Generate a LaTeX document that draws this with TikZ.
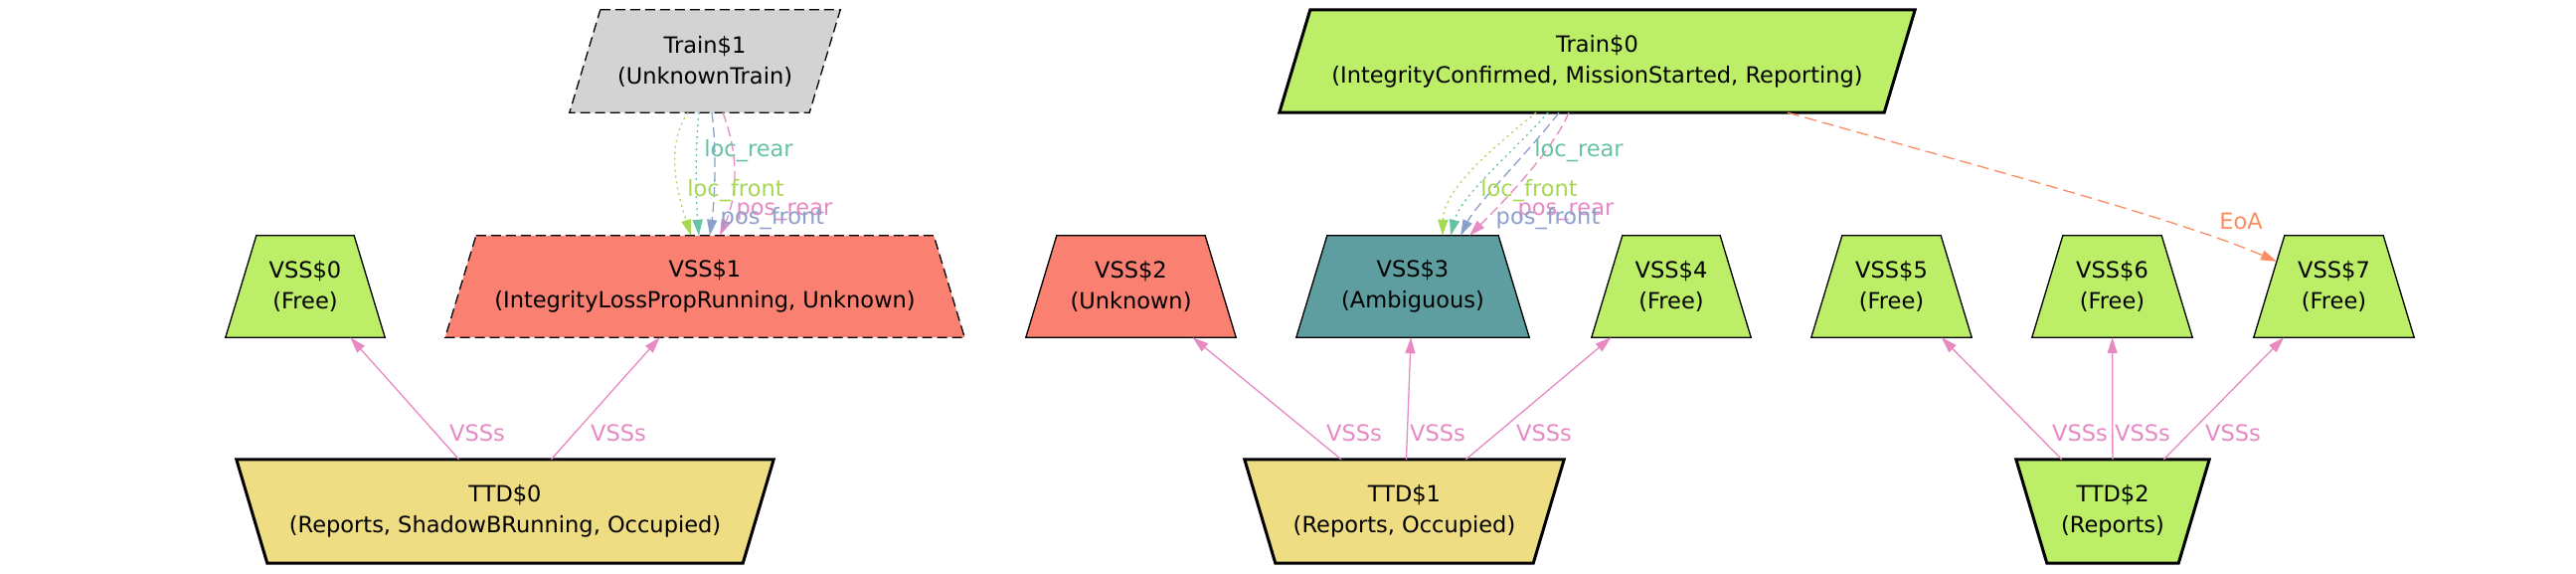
\documentclass[tikz,border=0pt]{standalone}
\usepackage{fontspec}
\setmainfont{DejaVu Sans}
\usetikzlibrary{arrows.meta,calc}
\definecolor{nodegreen}{HTML}{BCEE68}
\definecolor{nodesalmon}{HTML}{FA8072}
\definecolor{nodeteal}{HTML}{5F9EA0}
\definecolor{nodegold}{HTML}{EEDD82}
\definecolor{nodegray}{HTML}{D3D3D3}
\definecolor{cteal}{HTML}{66C2A5}
\definecolor{corange}{HTML}{FC8D62}
\definecolor{cblue}{HTML}{8DA0CB}
\definecolor{cpink}{HTML}{E78AC3}
\definecolor{cgreen}{HTML}{A6D854}
\pgfdeclarelayer{bg}
\pgfsetlayers{bg,main}
% trapezium with narrow top (VSS)
\newcommand\vssshape[2]{\begin{pgfonlayer}{bg}\path[#2] ([xshift=31pt]#1.north west) -- ([xshift=-31pt]#1.north east) -- (#1.south east) -- (#1.south west) -- cycle;\end{pgfonlayer}}
% inverted trapezium (TTD)
\newcommand\ttdshape[2]{\begin{pgfonlayer}{bg}\path[#2] (#1.north west) -- (#1.north east) -- ([xshift=-31pt]#1.south east) -- ([xshift=31pt]#1.south west) -- cycle;\end{pgfonlayer}}
% parallelogram (Train)
\newcommand\trainshape[2]{\begin{pgfonlayer}{bg}\path[#2] ([xshift=31pt]#1.north west) -- (#1.north east) -- ([xshift=-31pt]#1.south east) -- (#1.south west) -- cycle;\end{pgfonlayer}}
\begin{document}
\begin{tikzpicture}[x=1pt,y=-1pt,
  box/.style={inner sep=0pt, align=center, font=\fontsize{22.5}{31}\selectfont},
  lbl/.style={inner sep=0pt, font=\fontsize{22.5}{27}\selectfont},
  thinb/.style={draw=black, line width=1.3pt, line join=miter},
  boldb/.style={draw=black, line width=3pt, line join=miter},
  dashb/.style={draw=black, line width=1.3pt, dash pattern=on 10pt off 5pt},
  tip/.style={-{Triangle[length=16pt,width=10pt]}},
  vssedge/.style={draw=cpink, line width=1.3pt, tip},
  locfront/.style={draw=cgreen, line width=1.3pt, dash pattern=on 2pt off 4pt, tip},
  locrear/.style={draw=cteal, line width=1.3pt, dash pattern=on 2pt off 4pt, tip},
  posfront/.style={draw=cblue, line width=1.3pt, dash pattern=on 10pt off 5pt, tip},
  posrear/.style={draw=cpink, line width=1.3pt, dash pattern=on 10pt off 5pt, tip},
  eoa/.style={draw=corange, line width=1.3pt, dash pattern=on 12pt off 6pt, tip}
]
\begin{pgfonlayer}{bg}
\fill[white] (0,0) rectangle (2591,576);
\end{pgfonlayer}
\useasboundingbox (0,0) rectangle (2591,576);

% Trains
\node[box, minimum width=272pt, minimum height=103pt] (tr1) at (709,61.5) {Train\$1\\(UnknownTrain)};
\trainshape{tr1}{fill=nodegray, dashb}
\node[box, minimum width=639pt, minimum height=103pt] (tr0) at (1606.5,61.5) {Train\$0\\(IntegrityConfirmed, MissionStarted, Reporting)};
\trainshape{tr0}{fill=nodegreen, boldb}

% VSS row
\node[box, minimum width=160pt, minimum height=102pt] (v0) at (307,288) {VSS\$0\\(Free)};
\vssshape{v0}{fill=nodegreen, thinb}
\node[box, minimum width=522pt, minimum height=102pt] (v1) at (709,288) {VSS\$1\\(IntegrityLossPropRunning, Unknown)};
\vssshape{v1}{fill=nodesalmon, dashb}
\node[box, minimum width=211pt, minimum height=102pt] (v2) at (1137.5,288) {VSS\$2\\(Unknown)};
\vssshape{v2}{fill=nodesalmon, thinb}
\node[box, minimum width=234pt, minimum height=102pt] (v3) at (1421,288) {VSS\$3\\(Ambiguous)};
\vssshape{v3}{fill=nodeteal, thinb}
\node[box, minimum width=160pt, minimum height=102pt] (v4) at (1681,288) {VSS\$4\\(Free)};
\vssshape{v4}{fill=nodegreen, thinb}
\node[box, minimum width=161pt, minimum height=102pt] (v5) at (1902.5,288) {VSS\$5\\(Free)};
\vssshape{v5}{fill=nodegreen, thinb}
\node[box, minimum width=161pt, minimum height=102pt] (v6) at (2124.5,288) {VSS\$6\\(Free)};
\vssshape{v6}{fill=nodegreen, thinb}
\node[box, minimum width=161pt, minimum height=102pt] (v7) at (2347.5,288) {VSS\$7\\(Free)};
\vssshape{v7}{fill=nodegreen, thinb}

% TTD row
\node[box, minimum width=540pt, minimum height=104pt] (t0) at (508,514) {TTD\$0\\(Reports, ShadowBRunning, Occupied)};
\ttdshape{t0}{fill=nodegold, boldb}
\node[box, minimum width=321pt, minimum height=104pt] (t1) at (1412.5,514) {TTD\$1\\(Reports, Occupied)};
\ttdshape{t1}{fill=nodegold, boldb}
\node[box, minimum width=194pt, minimum height=104pt] (t2) at (2125,514) {TTD\$2\\(Reports)};
\ttdshape{t2}{fill=nodegreen, boldb}

% VSSs edges
\draw[vssedge] (t0) -- (v0);
\draw[vssedge] (t0) -- (v1);
\draw[vssedge] (t1) -- (v2);
\draw[vssedge] (t1) -- (v3);
\draw[vssedge] (t1) -- (v4);
\draw[vssedge] (t2) -- (v5);
\draw[vssedge] (t2) -- (v6);
\draw[vssedge] (t2) -- (v7);
\node[lbl, text=cpink] (l00) at (480,435) {VSSs};
\node[lbl, text=cpink] (l01) at (622,435) {VSSs};
\node[lbl, text=cpink] (l12) at (1362,435) {VSSs};
\node[lbl, text=cpink] (l13) at (1446,435) {VSSs};
\node[lbl, text=cpink] (l14) at (1553,435) {VSSs};
\node[lbl, text=cpink] (l25) at (2092,435) {VSSs};
\node[lbl, text=cpink] (l26) at (2155,435) {VSSs};
\node[lbl, text=cpink] (l27) at (2246,435) {VSSs};

% Train$1 -> VSS$1
\draw[locfront] ([xshift=-17pt]tr1.south) .. controls (666,150) and (685,205) .. ([xshift=-14pt]v1.north);
\draw[locrear] ([xshift=-6pt]tr1.south) .. controls (699,150) and (700,200) .. ([xshift=-6pt]v1.north);
\draw[posrear] ([xshift=18pt]tr1.south) .. controls (745,160) and (740,200) .. ([xshift=15pt]v1.north);
\draw[posfront] ([xshift=7pt]tr1.south) .. controls (721,150) and (719,200) .. ([xshift=5pt]v1.north);
\node[lbl, text=cteal] (a1) at (753,152) {loc\_rear};
\node[lbl, text=cgreen] (a2) at (740,192) {loc\_front};
\node[lbl, text=cpink] (a3) at (789,213) {pos\_rear};
\node[lbl, text=cblue] (a4) at (777,220) {pos\_front};

% Train$0 -> VSS$3
\draw[locfront] ([xshift=-61.5pt]tr0.south) .. controls (1500,150) and (1452,190) .. ([xshift=30pt]v3.north);
\draw[locrear] ([xshift=-49.5pt]tr0.south) .. controls (1525,150) and (1470,195) .. ([xshift=38pt]v3.north);
\draw[posrear] ([xshift=-28.5pt]tr0.south) .. controls (1560,155) and (1505,210) .. ([xshift=57pt]v3.north);
\draw[posfront] ([xshift=-38.5pt]tr0.south) .. controls (1540,150) and (1485,205) .. ([xshift=48pt]v3.north);
\node[lbl, text=cteal] (b1) at (1588,152) {loc\_rear};
\node[lbl, text=cgreen] (b2) at (1538,192) {loc\_front};
\node[lbl, text=cpink] (b3) at (1575,213) {pos\_rear};
\node[lbl, text=cblue] (b4) at (1557,220) {pos\_front};

% Train$0 -> VSS$7 (EoA)
\draw[eoa] ([xshift=191.5pt]tr0.south) .. controls (2000,170) and (2190,220) .. ([xshift=-57.5pt,yshift=-26pt]v7.north);
\node[lbl, text=corange] (e1) at (2254,222) {EoA};
\end{tikzpicture}
\end{document}
